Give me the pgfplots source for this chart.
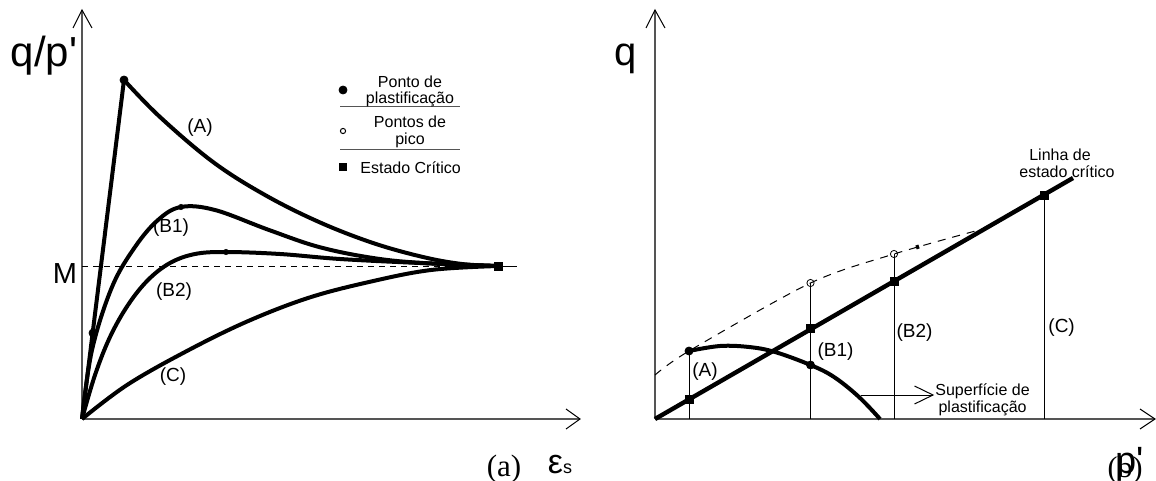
\documentclass[border=0pt]{standalone}
\usepackage{pgfplots}
\pgfplotsset{compat=1.18}
\usepackage{fontspec}
\setmainfont{Liberation Sans}
\newfontfamily\serif{Liberation Serif}
\newcommand\fs[1]{\fontsize{#1}{#1}\selectfont}

\definecolor{axisgray}{HTML}{555555}

\begin{document}
\begin{tikzpicture}
\begin{axis}[
  name=main,
  scale only axis, width=578pt, height=240.5pt,
  xmin=0, xmax=1156, ymin=0, ymax=481, y dir=reverse,
  hide axis, clip=false,
  thick curve/.style={black, line width=2pt, smooth, tension=0.6},
  thin line/.style={black, line width=0.5pt},
  axis line/.style={axisgray, line width=0.7pt},
  arrow head/.style={black, line width=0.5pt},
  yield dot/.style={only marks, mark=*, mark size=2pt, mark options={fill=black}},
  peak dot/.style={only marks, mark=o, mark size=1.3pt, mark options={line width=0.5pt}},
  cs dot/.style={only marks, mark=square*, mark size=2pt},
]

% ---------------- (a) stress ratio vs. shear strain ----------------
% axes
\addplot[axis line] coordinates {(82,419) (82,10)};
\addplot[axis line] coordinates {(82,419) (580,419)};
\addplot[arrow head] coordinates {(73,28) (82,10) (92,28)};
\addplot[arrow head] coordinates {(566,409) (580,419) (566,429)};
% critical state ratio M
\addplot[black, line width=0.5pt, dash pattern=on 3pt off 2.5pt] coordinates {(82,266) (498,266)};
\addplot[thin line] coordinates {(498,266) (517,266)};
% curve A: stiff rise to the yield point, then softening
\addplot[black, line width=2pt] coordinates {(82,419) (124,80)};
\addplot[thick curve] coordinates {(124,80) (160,117) (213,162) (265,195) (319,222) (373,243) (423,257) (462,264) (498,266)};
% curve B1
\addplot[thick curve] coordinates {(82,419) (92,350) (112,287) (135,247) (158,220) (181,207) (215,210) (269,230) (319,247) (373,258) (423,263) (498,266)};
% curve B2
\addplot[thick curve] coordinates {(82,419) (95,375) (110,337) (128,305) (148,280) (170,263) (195,254) (226,252) (280,254) (340,259) (420,263) (498,266)};
% curve C
\addplot[thick curve] coordinates {(82,419) (127,385) (185,352) (246,322) (308,298) (369,282) (431,270) (498,266)};
% markers
\addplot[yield dot] coordinates {(124,80) (93,333)};
\addplot[peak dot, mark options={fill=white}] coordinates {(181,207) (226,252)};
\addplot[cs dot] coordinates {(498,266)};
% key
\addplot[yield dot] coordinates {(343,90)};
\addplot[peak dot] coordinates {(343,131)};
\addplot[cs dot, mark size=1.75pt] coordinates {(343,167)};
\addplot[thin line, axisgray] coordinates {(340,107) (460,107)};
\addplot[thin line, axisgray] coordinates {(340,149) (460,149)};
\node[font=\fs{8}] at (410,82) {Ponto de};
\node[font=\fs{8}] at (410,99) {plastificação};
\node[font=\fs{8}] at (410,122) {Pontos de};
\node[font=\fs{8}] at (410,140) {pico};
\node[font=\fs{8}, anchor=west, inner sep=0pt] at (360,168) {Estado Crítico};
% labels
\node[font=\fs{9.5}] at (200,128) {(A)};
\node[font=\fs{9.5}] at (171,228) {(B1)};
\node[font=\fs{9.5}] at (174,292) {(B2)};
\node[font=\fs{9.5}] at (173,377) {(C)};
\node[font=\fs{14.5}, anchor=base, inner sep=0pt] at (65,283) {M};
\node[font=\fs{21}, anchor=base, inner sep=0pt] at (44,67) {q/p\textquotesingle};
\node[font=\serif\fs{15.5}, anchor=base, inner sep=0pt] at (504,476) {(a)};
\node[anchor=base, inner sep=0pt] at (560,473) {{\fs{17}ε}{\fs{9}s}};

% ---------------- (b) stress paths in the q--p' plane ----------------
% axes
\addplot[axis line] coordinates {(655,419) (655,10)};
\addplot[axis line] coordinates {(655,419) (1155,419)};
\addplot[arrow head] coordinates {(646,28) (655,10) (665,28)};
\addplot[arrow head] coordinates {(1140,409) (1155,419) (1140,429)};
% envelope through the peak points
\addplot[black, line width=0.5pt, smooth, dash pattern=on 4pt off 3.5pt] coordinates {(655,375) (689,351) (810.5,283) (894,254) (979,230)};
\addplot[black, line width=2pt] coordinates {(916,247.5) (919,246.5)};
% vertical lines from each path
\addplot[thin line] coordinates {(689,419) (689,351)};
\addplot[thin line] coordinates {(810.5,419) (810.5,283)};
\addplot[thin line] coordinates {(894,419) (894,254)};
\addplot[thin line] coordinates {(1044,419) (1044,195)};
% critical state line
\addplot[black, line width=2.2pt] coordinates {(655,419) (1073,178)};
% yield surface
\addplot[thick curve] coordinates {(689,351) (720,346) (749,347) (775,352) (810.5,365) (834,377) (859,397) (880,419)};
% pointer to the yield surface
\addplot[thin line] coordinates {(861,395) (933,395)};
\addplot[thin line] coordinates {(914.5,386) (933,395) (914.5,404)};
% markers
\addplot[yield dot] coordinates {(689,351) (810.5,365)};
\addplot[peak dot, mark size=1.8pt, mark options={fill=white}] coordinates {(810.5,283) (894,254)};
\addplot[cs dot] coordinates {(689,399) (810.5,328) (894,281) (1044,195)};
% labels
\node[font=\fs{9.5}] at (705,372) {(A)};
\node[font=\fs{9.5}] at (835.5,352) {(B1)};
\node[font=\fs{9.5}] at (914.5,333) {(B2)};
\node[font=\fs{9.5}] at (1061.6,328) {(C)};
\node[font=\fs{8}, anchor=west, inner sep=0pt] at (935,391) {Superfície de};
\node[font=\fs{8}] at (982.6,408) {plastificação};
\node[font=\fs{8}] at (1060,155) {Linha de};
\node[font=\fs{8}] at (1067,172) {estado crítico};
\node[font=\fs{20}, anchor=base, inner sep=0pt] at (626,66) {q};
\node[font=\fs{19}, anchor=base, inner sep=0pt] at (1130,473) {p\textquotesingle};
\node[font=\serif\fs{15}, anchor=base, inner sep=0pt] at (1125,477) {(b)};
\end{axis}
\pgfresetboundingbox
\useasboundingbox (main.south west) rectangle (main.north east);
\end{tikzpicture}
\end{document}
